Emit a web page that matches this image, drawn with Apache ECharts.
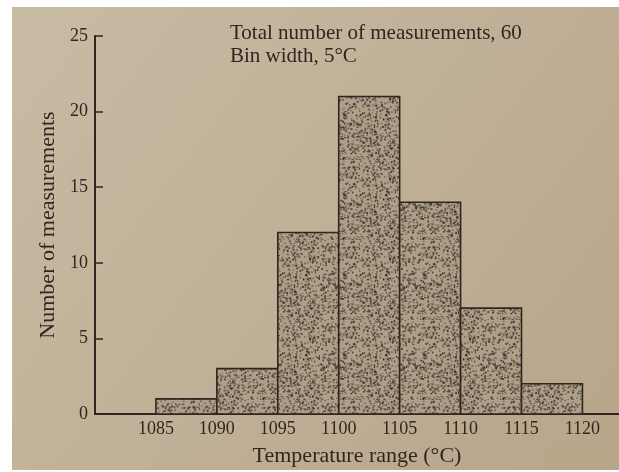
<!DOCTYPE html>
<html>
<head>
<meta charset="utf-8">
<script src="https://cdn.jsdelivr.net/npm/echarts@6/dist/echarts.min.js"></script>
<style>
  html, body { margin: 0; padding: 0; background: #fff; }
  #main { width: 619px; height: 472px; }
</style>
</head>
<body>
<div id="main"></div>
<script>
// histogram data, bins of 5 degC
const binStarts = [1085, 1090, 1095, 1100, 1105, 1110, 1115];
const counts = [1, 3, 12, 21, 14, 7, 2];
const binWidth = 5;
const xTicks = [1085, 1090, 1095, 1100, 1105, 1110, 1115, 1120];
const noteLines = ["Total number of measurements, 60", "Bin width, 5°C"];

const ink = "#30261f";
const serif = "'Liberation Serif', 'DejaVu Serif', serif";

// stipple texture for the bars (fixed seed, only a look)
function makeStipple() {
  let c = document.createElement("canvas");
  c.width = 80;
  c.height = 80;
  let ctx = c.getContext("2d");
  ctx.fillStyle = "#ad9f88";
  ctx.fillRect(0, 0, 80, 80);
  let seed = 7;
  function rnd() {
    seed = (seed * 16807) % 2147483647;
    return seed / 2147483647;
  }
  for (let i = 0; i < 1000; i++) {
    let x = rnd() * 80, y = rnd() * 80;
    ctx.fillStyle = rnd() < 0.5 ? "rgba(50,40,33,0.8)" : "rgba(85,72,60,0.6)";
    ctx.fillRect(x, y, 1 + rnd(), 1 + rnd());
  }
  return c;
}
const stipple = makeStipple();

let myChart = echarts.init(document.getElementById("main"));
let option = {
  backgroundColor: "#fff",
  animation: false,
  graphic: [
    {
      type: "rect",
      z: -10,
      silent: true,
      shape: { x: 12, y: 7, width: 607, height: 463 },
      style: {
        fill: {
          type: "linear", x: 0, y: 0, x2: 1, y2: 1,
          colorStops: [
            { offset: 0, color: "#c8bba4" },
            { offset: 0.5, color: "#c0b097" },
            { offset: 1, color: "#b8a58a" },
          ],
        },
      },
    },
    {
      type: "text",
      left: 230,
      top: 22,
      z: 10,
      style: {
        text: noteLines.join("\n"),
        font: "21px " + serif,
        lineHeight: 23,
        fill: ink,
      },
    },
  ],
  grid: {
    left: 95,
    right: 0,
    top: 36,
    bottom: 57,
  },
  xAxis: {
    type: "value",
    min: 1080,
    max: 1123,
    interval: 5,
    name: "Temperature range (°C)",
    nameLocation: "middle",
    nameGap: 31,
    nameTextStyle: { color: ink, fontFamily: serif, fontSize: 22 },
    axisLine: { show: true, lineStyle: { color: ink, width: 2 } },
    axisTick: { show: false },
    splitLine: { show: false },
    axisLabel: {
      color: ink,
      fontFamily: serif,
      fontSize: 18,
      margin: 6,
      showMaxLabel: false,
      formatter: (v) => (xTicks.indexOf(v) >= 0 ? String(v) : ""),
    },
  },
  yAxis: {
    type: "value",
    min: 0,
    max: 25,
    interval: 5,
    name: "Number of measurements",
    nameLocation: "middle",
    nameGap: 27,
    nameTextStyle: { color: ink, fontFamily: serif, fontSize: 22 },
    axisLine: { show: true, lineStyle: { color: ink, width: 2 } },
    axisTick: { show: true, inside: true, length: 8, lineStyle: { color: ink, width: 1.5 } },
    splitLine: { show: false },
    axisLabel: { color: ink, fontFamily: serif, fontSize: 18, margin: 7 },
  },
  series: [
    {
      type: "custom",
      data: binStarts.map((s, i) => [s, s + binWidth, counts[i]]),
      encode: { x: [0, 1], y: 2 },
      renderItem: (params, api) => {
        let p0 = api.coord([api.value(0), 0]);
        let p1 = api.coord([api.value(1), api.value(2)]);
        return {
          type: "rect",
          shape: { x: p0[0], y: p1[1], width: p1[0] - p0[0], height: p0[1] - p1[1] },
          style: {
            fill: { image: stipple, repeat: "repeat" },
            stroke: ink,
            lineWidth: 1.6,
          },
        };
      },
    },
  ],
};
myChart.setOption(option);
</script>
</body>
</html>
